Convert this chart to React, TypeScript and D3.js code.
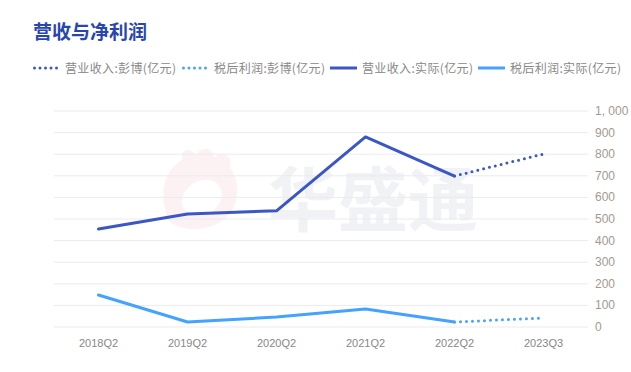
import * as d3 from "d3";

const categories = ["2018Q2", "2019Q2", "2020Q2", "2021Q2", "2022Q2", "2023Q3"];
// 营业收入:实际 / 税后利润:实际 (亿元)
const revenueActual = [454, 523, 538, 880, 699, null];
const profitActual = [148, 23, 46, 83, 23, null];
// 彭博预测 (亿元), joined to last actual
const revenueForecast = [null, null, null, null, 699, 801];
const profitForecast = [null, null, null, null, 23, 42];
const yTicks = [0, 100, 200, 300, 400, 500, 600, 700, 800, 900, 1000];

const legendItems = [
  { label: "营业收入:彭博(亿元)", color: "#3b57c4", dotted: true },
  { label: "税后利润:彭博(亿元)", color: "#45a3ff", dotted: true },
  { label: "营业收入:实际(亿元)", color: "#3b57c4", dotted: false },
  { label: "税后利润:实际(亿元)", color: "#45a3ff", dotted: false },
];

const W = 631;
const H = 372;
const font = "'Noto Sans CJK SC', 'Noto Sans', sans-serif";
const latin = "'Liberation Sans', Arial, sans-serif";

export default function App() {
  const x = d3.scaleBand<string>().domain(categories).range([54, 588]);
  const y = d3.scaleLinear().domain([0, 1000]).range([327, 111]);
  const cx = (i: number) => (x(categories[i]) ?? 0) + x.bandwidth() / 2;

  const line = d3
    .line<number | null>()
    .defined((d) => d != null)
    .x((_, i) => cx(i))
    .y((d) => y(d as number));

  const series = [
    { data: revenueActual, color: "#3b57c4", dotted: false },
    { data: profitActual, color: "#45a3ff", dotted: false },
    { data: revenueForecast, color: "#3b57c4", dotted: true },
    { data: profitForecast, color: "#45a3ff", dotted: true },
  ];

  const legendX = [33, 182, 330, 478];

  return (
    <svg width={W} height={H} style={{ position: "absolute", left: 0, top: 0, background: "#fff" }}>
      <text x={33} y={39} fontFamily={font} fontSize={19} fontWeight="bold" fill="#2746b0">
        营收与净利润
      </text>

      {legendItems.map((it, i) => (
        <g key={it.label} transform={`translate(${legendX[i]},68)`}>
          <line
            x1={it.dotted ? 1.5 : 0}
            x2={it.dotted ? 24 : 27}
            y1={0}
            y2={0}
            stroke={it.color}
            strokeWidth={3}
            strokeLinecap={it.dotted ? "round" : "butt"}
            strokeDasharray={it.dotted ? "0 5.5" : undefined}
          />
          <text x={32} y={4.5} fontFamily={font} fontSize={12} fill="#888" letterSpacing={0.35}>
            {it.label}
          </text>
        </g>
      ))}

      {/* watermark */}
      <g>
        <path
          d="M165,208 C160,185 168,168 182,160 C180,150 190,145 196,156 C200,146 212,146 214,158 C222,150 234,156 230,168 C240,180 240,205 226,218 C210,232 182,232 170,222 C166,218 166,213 165,208 Z M182,205 C180,190 195,178 210,180 C224,183 226,200 214,210 C202,218 186,216 182,205 Z"
          fill="#fdf2f3"
          fillRule="evenodd"
        />
        <text x={268} y={226} fontFamily={font} fontSize={70} fontWeight="bold" fill="#f1f2f5">
          华盛通
        </text>
      </g>

      {yTicks.map((t) => (
        <g key={t}>
          <line x1={54} x2={588} y1={y(t)} y2={y(t)} stroke="#ebebeb" strokeWidth={1} />
          <text x={595} y={y(t) + 4} fontFamily={latin} fontSize={12} fill="#a29a92">
            {d3.format(",")(t).replace(",", ", ")}
          </text>
        </g>
      ))}

      {series.map((s, i) => (
        <path
          key={i}
          d={line(s.data) ?? ""}
          fill="none"
          stroke={s.color}
          strokeWidth={3}
          strokeLinecap="round"
          strokeLinejoin="round"
          strokeDasharray={s.dotted ? "0 6" : undefined}
        />
      ))}

      {categories.map((c, i) => (
        <text key={c} x={cx(i)} y={347} textAnchor="middle" fontFamily={latin} fontSize={11} fill="#888">
          {c}
        </text>
      ))}
    </svg>
  );
}
